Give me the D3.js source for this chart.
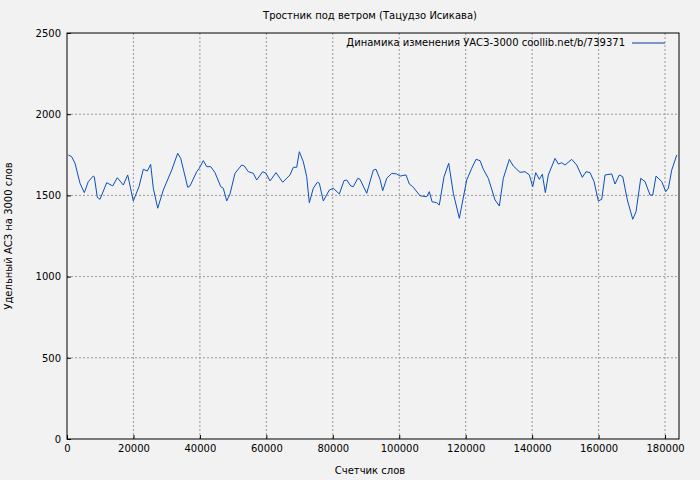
<!DOCTYPE html>
<html><head><meta charset="utf-8">
<script src="https://cdn.jsdelivr.net/npm/d3@7"></script>
<style>body{margin:0;background:#f2f2f2;}svg{display:block;font-family:"DejaVu Sans",sans-serif;}</style>
</head><body><div id="app"></div>
<script>
// word counter positions
const words = [391,1415,2408,3913,5207,6411,7916,8217,9120,9933,11950,13756,15140,16946,18271,19956,21672,22966,24170,25182,25976,27300,28986,31515,33321,34224,36331,37023,39040,39822,41026,42050,43254,44548,46264,47046,48070,49063,50568,52585,53367,54571,56076,57090,58897,59899,61103,62909,64926,67123,68116,69140,69922,71126,72150,72932,74136,75340,75942,77146,78952,80156,81962,83377,84190,85394,86176,87500,88193,90210,92196,93009,94213,95026,96230,97735,99240,100233,102039,103032,104056,106253,108270,109052,109865,111280,112062,113477,114891,116276,118082,120310,121815,123109,124313,125306,126811,128828,130122,131326,133132,134336,136353,137858,139152,140176,141078,142162,143065,143968,144871,146888,147881,148905,149898,151915,153420,155104,156219,157423,158627,159921,160944,161938,163955,164948,166242,167266,168651,170277,171269,172684,173978,175483,176296,177289,179005,180209,180992,182015,183520];
// УАСЗ values
const uasz = [1749,1738,1698,1575,1517,1585,1619,1615,1488,1476,1578,1558,1609,1564,1626,1466,1554,1661,1650,1691,1544,1421,1533,1656,1759,1728,1550,1558,1646,1667,1714,1677,1677,1640,1554,1544,1466,1509,1636,1687,1681,1646,1636,1595,1646,1636,1589,1640,1581,1626,1673,1673,1769,1707,1615,1455,1544,1581,1575,1466,1533,1544,1509,1591,1595,1558,1554,1605,1599,1513,1656,1661,1599,1529,1605,1636,1632,1619,1626,1570,1554,1498,1492,1523,1461,1455,1441,1615,1698,1513,1359,1595,1667,1722,1714,1661,1605,1472,1435,1605,1722,1681,1642,1646,1626,1554,1640,1599,1630,1517,1626,1728,1693,1701,1687,1722,1687,1611,1646,1640,1585,1466,1476,1626,1632,1570,1626,1615,1472,1353,1400,1605,1585,1502,1502,1619,1585,1523,1544,1656,1749];
const xTicks = [0,20000,40000,60000,80000,100000,120000,140000,160000,180000];
const yTicks = [0,500,1000,1500,2000,2500];

const W = 700, H = 480, m = {l:67, r:21, t:33, b:41};
const svg = d3.select('#app').append('svg').attr('width', W).attr('height', H);
svg.append('rect').attr('width', W).attr('height', H).attr('fill', '#f2f2f2');

const x = d3.scaleLinear().domain([0, 184200]).range([m.l, W - m.r]);
const y = d3.scaleLinear().domain([0, 2500]).range([H - m.b, m.t]);

// grid
svg.append('g').selectAll('line').data(xTicks.slice(1)).join('line')
  .attr('x1', d => x(d)).attr('x2', d => x(d)).attr('y1', m.t).attr('y2', H - m.b)
  .attr('stroke', '#999').attr('stroke-dasharray', '2,2');
svg.append('g').selectAll('line').data(yTicks.slice(1, -1)).join('line')
  .attr('x1', m.l).attr('x2', W - m.r).attr('y1', d => y(d)).attr('y2', d => y(d))
  .attr('stroke', '#999').attr('stroke-dasharray', '2,2');

// axes
const xa = svg.append('g').attr('transform', `translate(0,${H - m.b})`)
  .call(d3.axisBottom(x).tickValues(xTicks).tickFormat(d3.format('d')).tickSize(-4).tickPadding(6));
const ya = svg.append('g').attr('transform', `translate(${m.l},0)`)
  .call(d3.axisLeft(y).tickValues(yTicks).tickFormat(d3.format('d')).tickSize(-4).tickPadding(6));
[xa, ya].forEach(a => { a.select('.domain').remove(); a.selectAll('text').attr('font-size', 10).attr('fill', '#000').attr('font-family', 'DejaVu Sans'); });

svg.append('rect').attr('x', m.l).attr('y', m.t).attr('width', W - m.r - m.l).attr('height', H - m.b - m.t)
  .attr('fill', 'none').attr('stroke', '#000');

// line
svg.append('path').datum(d3.zip(words, uasz))
  .attr('fill', 'none').attr('stroke', '#0a4fbf').attr('stroke-width', 1)
  .attr('d', d3.line().x(d => x(d[0])).y(d => y(d[1])));

// texts
svg.append('text').attr('x', 370).attr('y', 19).attr('text-anchor', 'middle').attr('font-size', 10)
  .text('Тростник под ветром (Тацудзо Исикава)');
svg.append('text').attr('x', 370).attr('y', 474).attr('text-anchor', 'middle').attr('font-size', 10)
  .text('Счетчик слов');
svg.append('text').attr('transform', `translate(12,${(m.t + H - m.b) / 2}) rotate(-90)`).attr('text-anchor', 'middle').attr('font-size', 10)
  .text('Удельный АСЗ на 3000 слов');
svg.append('text').attr('x', 625).attr('y', 46).attr('text-anchor', 'end').attr('font-size', 10)
  .text('Динамика изменения УАСЗ-3000 coollib.net/b/739371');
svg.append('line').attr('x1', 632).attr('x2', 665).attr('y1', 43).attr('y2', 43).attr('stroke', '#0a3a9a');
</script></body></html>
